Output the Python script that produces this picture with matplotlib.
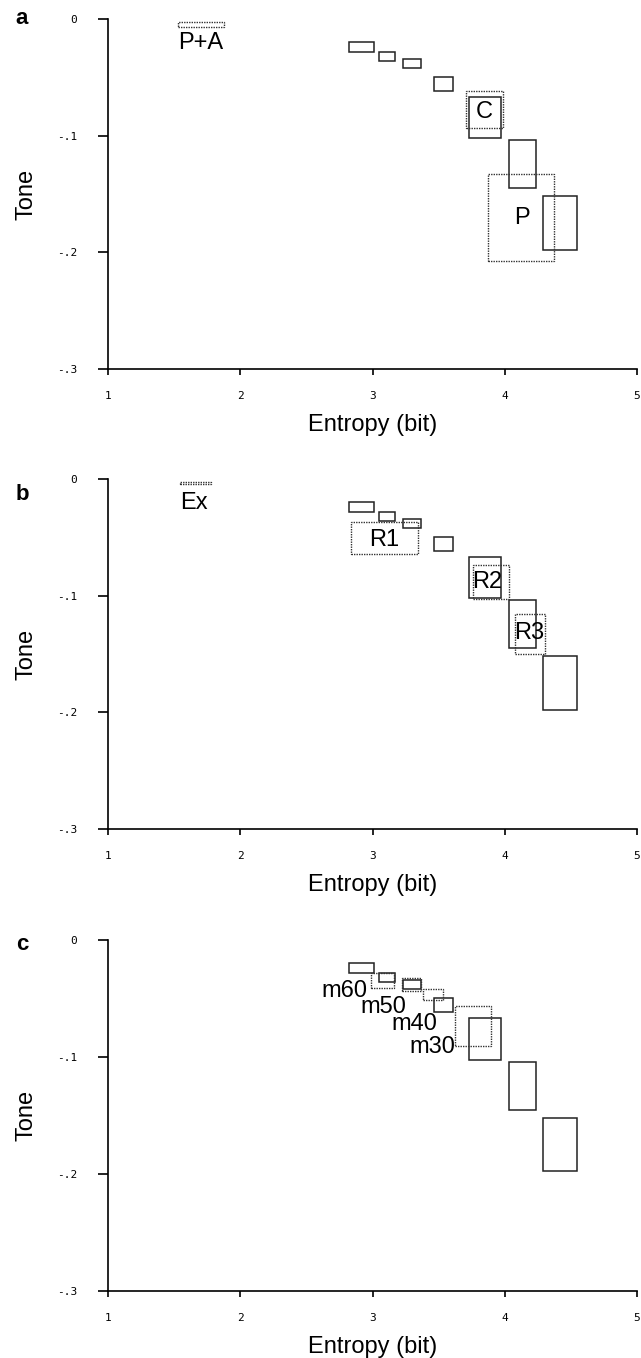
import matplotlib
matplotlib.use('Agg')
import matplotlib.pyplot as plt
from matplotlib.patches import Rectangle
from matplotlib import rcParams

rcParams['font.family'] = ['Liberation Sans', 'DejaVu Sans']
rcParams['font.size'] = 16

# 参考框（三幅图相同，实线）: x0, x1, y_top, y_bottom
ref_x0 = [2.820, 3.050, 3.233, 3.468, 3.732, 4.029, 4.289]
ref_x1 = [3.011, 3.167, 3.363, 3.606, 3.975, 4.238, 4.545]
ref_y0 = [-0.0200, -0.0286, -0.0346, -0.0495, -0.0667, -0.1041, -0.1519]
ref_y1 = [-0.0286, -0.0361, -0.0421, -0.0615, -0.1024, -0.1451, -0.1977]

# a 图虚线框
a_names = ['P+A', 'C', 'P']
a_x0 = [1.532, 3.708, 3.870]
a_x1 = [1.876, 3.990, 4.373]
a_y0 = [-0.0028, -0.0618, -0.1325]
a_y1 = [-0.0071, -0.0930, -0.2071]
a_lx = [1.700, 3.845, 4.131]
a_ly = [-0.0206, -0.0796, -0.171]

# b 图虚线框
b_names = ['Ex', 'R1', 'R2', 'R3']
b_x0 = [1.545, 2.838, 3.761, 4.074]
b_x1 = [1.778, 3.344, 4.029, 4.301]
b_y0 = [-0.0028, -0.0372, -0.0741, -0.1153]
b_y1 = [-0.0040, -0.0641, -0.1027, -0.1496]
b_lx = [1.649, 3.086, 3.865, 4.186]
b_ly = [-0.0209, -0.0524, -0.0881, -0.1319]

# c 图虚线框
c_names = ['m60', 'm50', 'm40', 'm30']
c_x0 = [2.990, 3.224, 3.385, 3.626]
c_x1 = [3.160, 3.368, 3.534, 3.895]
c_y0 = [-0.0286, -0.0329, -0.0415, -0.0567]
c_y1 = [-0.0409, -0.0438, -0.0515, -0.0907]
c_lx = [2.789, 3.081, 3.316, 3.452]
c_ly = [-0.0438, -0.0572, -0.0715, -0.0916]

xticks = [1, 2, 3, 4, 5]
yticks = [0, -0.1, -0.2, -0.3]
ytick_labels = ['0', '-.1', '-.2', '-.3']

fig = plt.figure(figsize=(6.41, 13.58), dpi=100)
left, width = 108 / 641, 529 / 641
panel_rows = [(19, 369), (479, 829), (940, 1291)]
letter_y = [18, 494, 944]
panels = [
    ('a', a_names, a_x0, a_x1, a_y0, a_y1, a_lx, a_ly),
    ('b', b_names, b_x0, b_x1, b_y0, b_y1, b_lx, b_ly),
    ('c', c_names, c_x0, c_x1, c_y0, c_y1, c_lx, c_ly),
]

for (top, bot), ly_letter, (letter, names, x0, x1, y0, y1, lx, ly) in zip(panel_rows, letter_y, panels):
    ax = fig.add_axes([left, 1 - bot / 1358, width, (bot - top) / 1358])
    ax.set_xlim(1, 5)
    ax.set_ylim(-0.3, 0)
    for s in ['top', 'right']:
        ax.spines[s].set_visible(False)
    for s in ['left', 'bottom']:
        ax.spines[s].set_linewidth(1.2)

    # 实线参考框
    for i in range(len(ref_x0)):
        ax.add_patch(Rectangle((ref_x0[i], ref_y1[i]), ref_x1[i] - ref_x0[i],
                               ref_y0[i] - ref_y1[i], fill=False,
                               edgecolor='#222222', linewidth=1.1))
    # 虚线框
    for i in range(len(x0)):
        ax.add_patch(Rectangle((x0[i], y1[i]), x1[i] - x0[i], y0[i] - y1[i],
                               fill=False, edgecolor='#333333', linewidth=1.0,
                               linestyle=(0, (1, 0.8))))
        ax.text(lx[i], ly[i], names[i], ha='center', va='center', fontsize=17)

    ax.set_xticks(xticks)
    ax.set_xticklabels([str(t) for t in xticks], family='DejaVu Sans Mono', fontsize=8)
    ax.set_yticks(yticks)
    ax.set_yticklabels(ytick_labels, family='DejaVu Sans Mono', fontsize=8)
    ax.tick_params(axis='x', direction='out', length=4.5, width=1.2, pad=11)
    ax.tick_params(axis='y', direction='out', length=7, width=1.2, pad=15)
    ax.set_xlabel('Entropy (bit)', fontsize=17, labelpad=10)
    ax.set_ylabel('Tone', fontsize=17, labelpad=14)
    fig.text(22 / 641, 1 - ly_letter / 1358, letter, fontsize=16, fontweight='bold',
             ha='center', va='center')

fig.savefig('out.png', dpi=100)
